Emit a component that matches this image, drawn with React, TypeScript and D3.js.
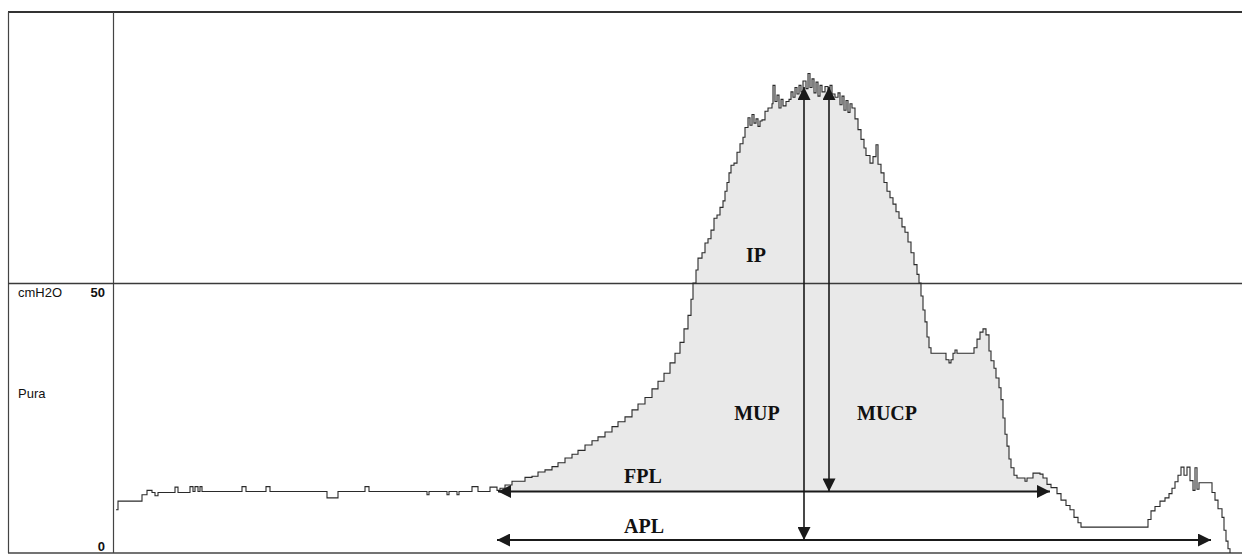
import React from 'react'
import * as d3 from 'd3'

// urethral pressure profile, position along the withdrawal (arbitrary units) vs Pura (cmH2O)
const restingPos = [2, 4, 28, 33, 38, 41, 44, 61, 64, 76, 79, 81, 84, 86, 88, 128, 132, 152, 156, 213, 224, 251, 255, 313, 315, 333, 335, 343, 345, 358, 364, 376, 383]
const restingP = [8.0, 9.6, 10.8, 11.6, 11.2, 10.6, 11.2, 12.2, 11.2, 12.3, 11.4, 12.3, 11.4, 12.3, 11.4, 12.3, 11.4, 12.3, 11.4, 10.2, 11.4, 12.3, 11.4, 10.8, 11.4, 10.8, 11.4, 10.8, 11.4, 12.3, 11.4, 12.2, 11.6]

const profilePos = [386, 391, 398, 411, 418, 424, 431, 438, 444, 451, 458, 464, 471, 478, 484, 491, 498, 504, 511, 518, 524, 531, 538, 544, 550, 556, 561, 566, 570, 574, 577, 579, 582, 584, 588, 591, 594, 597, 600, 603, 606, 609, 611, 613, 615, 617, 620, 623, 626, 629, 631, 634, 636, 638, 640, 642, 644, 646, 648, 651, 654, 658, 659, 661, 663, 665, 667, 669, 672, 675, 677, 679, 681, 683, 685, 687, 689, 692, 694, 696, 698, 700, 702, 704, 706, 708, 711, 714, 716, 718, 721, 724, 726, 728, 730, 732, 734, 736, 738, 741, 744, 747, 750, 752, 756, 759, 762, 764, 767, 770, 773, 776, 779, 782, 785, 788, 791, 794, 797, 800, 803, 805, 807, 809, 811, 813, 815, 817, 830, 832, 835, 837, 839, 841, 843, 856, 860, 863, 866, 869, 872, 875, 877, 880, 882, 885, 887, 889, 891, 893, 895, 897, 900, 903, 911, 913, 919, 926, 929, 933, 937]
const profileP = [12.0, 12.6, 13.3, 14.0, 14.2, 15.0, 15.4, 16.0, 16.7, 17.6, 18.3, 19.0, 20.0, 20.8, 21.5, 22.4, 23.4, 24.3, 25.2, 26.5, 27.6, 28.8, 30.4, 31.8, 33.3, 35.2, 37.0, 39.0, 41.5, 44.0, 47.0, 50.0, 52.4, 54.6, 55.6, 57.4, 58.2, 59.8, 62.0, 62.6, 64.0, 65.2, 67.0, 68.6, 70.4, 71.8, 72.2, 74.2, 75.8, 77.0, 78.8, 80.6, 79.2, 81.2, 79.6, 80.4, 79.0, 80.0, 80.2, 81.8, 82.4, 83.2, 86.6, 83.6, 84.8, 82.4, 84.0, 82.8, 83.6, 84.0, 85.4, 84.4, 86.2, 85.0, 86.6, 85.4, 87.4, 86.0, 88.8, 86.2, 87.8, 85.2, 87.2, 84.6, 86.6, 85.4, 86.4, 85.2, 86.6, 85.0, 84.4, 85.2, 83.0, 84.6, 82.0, 83.8, 81.6, 83.2, 82.4, 80.4, 78.4, 76.6, 75.0, 73.6, 72.2, 73.4, 75.6, 72.0, 70.4, 68.6, 67.0, 65.8, 64.6, 63.2, 62.0, 60.4, 59.4, 57.6, 55.6, 53.4, 51.6, 50.0, 47.6, 45.0, 42.8, 40.0, 38.0, 37.0, 37.0, 35.8, 35.2, 35.8, 37.0, 37.6, 37.0, 37.0, 38.0, 39.6, 40.9, 41.5, 40.4, 37.4, 35.6, 34.2, 32.4, 30.6, 28.4, 25.0, 22.0, 19.8, 17.4, 15.8, 14.4, 13.9, 13.3, 13.9, 14.8, 14.6, 13.9, 12.7, 12.1]

const tailPos = [943, 947, 952, 956, 960, 964, 967, 1034, 1037, 1041, 1046, 1051, 1055, 1058, 1061, 1064, 1067, 1070, 1073, 1076, 1079, 1081, 1083, 1085, 1098, 1101, 1104, 1108, 1110, 1112, 1114, 1116]
const tailP = [11.0, 9.8, 8.8, 8.0, 6.6, 5.6, 4.8, 6.2, 7.8, 8.6, 9.6, 10.2, 11.0, 12.0, 13.2, 14.4, 15.9, 14.4, 15.9, 13.4, 11.6, 15.8, 11.8, 13.0, 11.2, 9.8, 8.2, 6.6, 4.2, 2.2, 0.8, 0.0]

// annotation levels (cmH2O) and positions
const fplLevel = 11.4
const aplLevel = 2.4
const peakArrowTop = 86.3
const fplRange = [384, 936]
const aplRange = [383, 1097]
const mupPos = 690
const mucpPos = 715

const labels = [
  { text: 'IP', pos: 642, level: 53.9 },
  { text: 'MUP', pos: 643, level: 24.6 },
  { text: 'MUCP', pos: 773, level: 24.6 },
  { text: 'FPL', pos: 529, level: 13.0 },
  { text: 'APL', pos: 530, level: 3.7 },
]

const yTicks = [50, 0]

const W = 1242
const H = 555

export default function App() {
  const x = d3.scaleLinear().domain([0, 1128]).range([114, 1242])
  const y = d3.scaleLinear().domain([0, 100]).range([553, 13])

  const trace = [
    ...restingPos.map((p, i) => [p, restingP[i]]),
    ...profilePos.map((p, i) => [p, profileP[i]]),
    ...tailPos.map((p, i) => [p, tailP[i]]),
  ] as [number, number][]

  const line = d3.line<[number, number]>()
    .x(d => x(d[0]))
    .y(d => y(d[1]))
    .curve(d3.curveStepAfter)

  const fillPts = [[fplRange[0], restingP[restingP.length - 1]] as [number, number]]
    .concat(trace.filter(d => d[0] > fplRange[0] && d[0] < fplRange[1]))
  fillPts.push([fplRange[1], fillPts[fillPts.length - 1][1]])

  const area = d3.area<[number, number]>()
    .x(d => x(d[0]))
    .y0(y(fplLevel))
    .y1(d => y(d[1]))
    .curve(d3.curveStepAfter)

  const arrowStroke = '#1a1a1a'
  const sans = '"Liberation Sans", Arial, sans-serif'
  const serif = '"Liberation Serif", "Times New Roman", serif'

  return (
    <svg width={W} height={H} style={{ position: 'absolute', left: 0, top: 0, background: '#fff' }}>
      <defs>
        <marker id="head" viewBox="0 0 13 13" refX={13} refY={6.5} markerWidth={13} markerHeight={13}
          markerUnits="userSpaceOnUse" orient="auto-start-reverse">
          <path d="M0,0L13,6.5L0,13Z" fill={arrowStroke} />
        </marker>
      </defs>

      <path d={area(fillPts) || ''} fill="#e9e9e9" />

      {/* frame */}
      <line x1={8} x2={W} y1={12} y2={12} stroke="#333" strokeWidth={2.2} />
      <line x1={8} x2={W} y1={y(0)} y2={y(0)} stroke="#444" strokeWidth={1.6} />
      <line x1={8.5} x2={8.5} y1={12} y2={y(0)} stroke="#444" strokeWidth={1.2} />
      <line x1={113.5} x2={113.5} y1={12} y2={y(0)} stroke="#444" strokeWidth={1.2} />
      <line x1={8} x2={W} y1={y(50) + 0.5} y2={y(50) + 0.5} stroke="#3a3a3a" strokeWidth={1.3} />

      <text x={18} y={y(50) + 14} fontFamily={sans} fontSize={13} fill="#111">cmH2O</text>
      <text x={18} y={398} fontFamily={sans} fontSize={13} fill="#111">Pura</text>
      {yTicks.map(t => (
        <text key={t} x={105} y={t === 0 ? y(t) - 2 : y(t) + 14} textAnchor="end"
          fontFamily={sans} fontSize={13} fontWeight={600} fill="#111">{t}</text>
      ))}

      <path d={line(trace) || ''} fill="none" stroke="#2a2a2a" strokeWidth={1.1} />

      {/* FPL and APL */}
      <line x1={x(fplRange[0])} x2={x(fplRange[1])} y1={y(fplLevel)} y2={y(fplLevel)}
        stroke={arrowStroke} strokeWidth={2} markerStart="url(#head)" markerEnd="url(#head)" />
      <line x1={x(aplRange[0])} x2={x(aplRange[1])} y1={y(aplLevel)} y2={y(aplLevel)}
        stroke={arrowStroke} strokeWidth={2} markerStart="url(#head)" markerEnd="url(#head)" />

      {/* MUP and MUCP */}
      <line x1={x(mupPos)} x2={x(mupPos)} y1={y(aplLevel)} y2={y(peakArrowTop)}
        stroke={arrowStroke} strokeWidth={1.6} markerStart="url(#head)" markerEnd="url(#head)" />
      <line x1={x(mucpPos)} x2={x(mucpPos)} y1={y(fplLevel)} y2={y(peakArrowTop)}
        stroke={arrowStroke} strokeWidth={1.6} markerStart="url(#head)" markerEnd="url(#head)" />

      {labels.map(l => (
        <text key={l.text} x={x(l.pos)} y={y(l.level)} textAnchor="middle"
          fontFamily={serif} fontSize={20} fontWeight={700} fill="#111">{l.text}</text>
      ))}
    </svg>
  )
}
